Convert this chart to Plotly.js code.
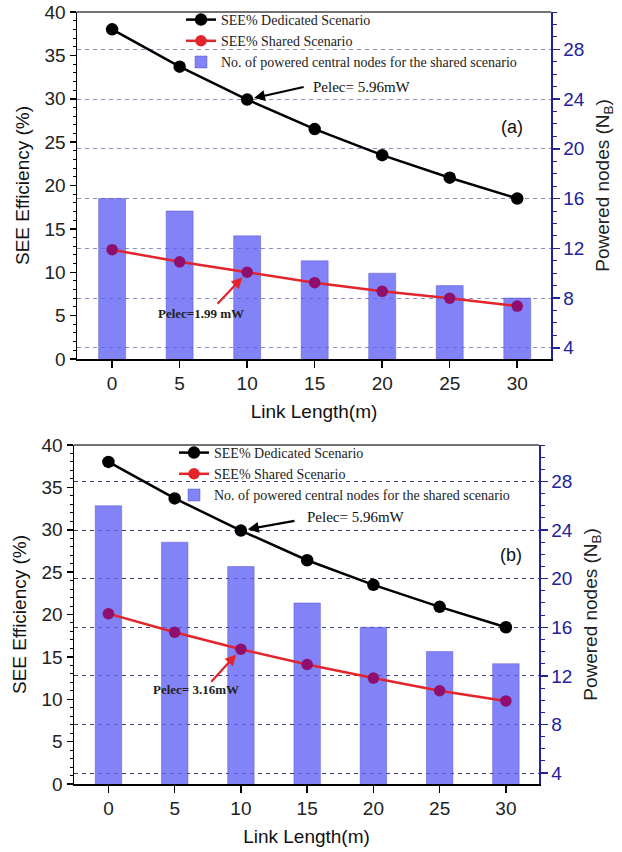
<!DOCTYPE html>
<html>
<head>
<meta charset="utf-8">
<script src="https://cdn.plot.ly/plotly-3.0.1.min.js"></script>
<style>
  html, body { margin: 0; padding: 0; background: #fff; }
  #chart { width: 622px; height: 852px; }
</style>
</head>
<body>
<div id="chart"></div>
<script>
// ---- data ----
const linkLength = [0, 5, 10, 15, 20, 25, 30];
const seeDedicatedA = [38.0, 33.7, 29.9, 26.5, 23.5, 20.9, 18.5];
const seeSharedA = [12.6, 11.2, 10.0, 8.8, 7.8, 7.0, 6.1];
const nodesA = [16, 15, 13, 11, 10, 9, 8];
const seeDedicatedB = [38.0, 33.7, 29.9, 26.4, 23.5, 20.9, 18.5];
const seeSharedB = [20.1, 17.9, 15.9, 14.1, 12.5, 11.0, 9.8];
const nodesB = [26, 23, 21, 18, 16, 14, 13];
const legendNames = ['SEE% Dedicated Scenario', 'SEE% Shared Scenario', 'No. of powered central nodes for the shared scenario'];

// ---- styles ----
const W = 622, H = 852;
const navy = '#22229a';
const sans = 'Liberation Sans, Arial, sans-serif';
const serif = 'Liberation Serif, Times New Roman, serif';
const barFill = 'rgba(96,96,246,0.78)';
const barLine = 'rgba(70,70,210,0.7)';
const purple = '#8e0f6e';
const redLine = '#e3242b';

const dom = {
  a: { x: [77 / W, 551 / W], y: [1 - 359 / H, 1 - 12 / H] },
  b: { x: [74 / W, 539 / W], y: [1 - 784 / H, 1 - 445 / H] }
};

function panelTraces(xa, yBar, yLine, leg, ded, shr, nodes) {
  return [
    { type: 'bar', x: linkLength, y: nodes, xaxis: xa, yaxis: yBar, width: 2,
      marker: { color: barFill, line: { color: barLine, width: 0.6 } },
      name: legendNames[2], legend: leg, legendrank: 3 },
    { type: 'scatter', mode: 'lines+markers', x: linkLength, y: ded, xaxis: xa, yaxis: yLine,
      line: { color: '#000', width: 2.5 }, marker: { color: '#000', size: 12.5 },
      name: legendNames[0], legend: leg, legendrank: 1 },
    { type: 'scatter', mode: 'lines+markers', x: linkLength, y: shr, xaxis: xa, yaxis: yLine,
      line: { color: redLine, width: 2.5 }, marker: { color: purple, size: 11.5 },
      name: legendNames[1], legend: leg, showlegend: false },
    // legend-only entry (red marker as in the reference legend)
    { type: 'scatter', mode: 'lines+markers', x: [null], y: [null], xaxis: xa, yaxis: yLine,
      line: { color: redLine, width: 2.5 }, marker: { color: redLine, size: 11.5 },
      name: legendNames[1], legend: leg, legendrank: 2, hoverinfo: 'skip' }
  ];
}

const traces = [].concat(
  panelTraces('x', 'y', 'y2', 'legend', seeDedicatedA, seeSharedA, nodesA),
  panelTraces('x2', 'y3', 'y4', 'legend2', seeDedicatedB, seeSharedB, nodesB)
);

function xAxis(d, anchor) {
  return {
    domain: d, anchor: anchor, range: [-2.6, 32.5], tickvals: linkLength,
    showgrid: false, zeroline: false, showline: true, linecolor: '#000', linewidth: 1.5,
    ticks: 'outside', ticklen: 7, tickwidth: 1.5, tickcolor: '#000',
    tickfont: { family: sans, size: 19, color: '#222' },
    title: { text: 'Link Length(m)', font: { family: sans, size: 19, color: '#111' }, standoff: 11 }
  };
}
function rightAxis(d, anchor, gridColor) {
  return {
    domain: d, anchor: anchor, side: 'right', range: [3.1, 31], tick0: 4, dtick: 4,
    showgrid: true, gridcolor: gridColor, griddash: '4px,4px', gridwidth: 1,
    zeroline: false, showline: true, linecolor: navy, linewidth: 1.5,
    ticks: 'outside', ticklen: 7, tickwidth: 1.5, tickcolor: navy,
    minor: { dtick: 1, ticks: 'outside', ticklen: 4, tickcolor: navy, tickwidth: 1, showgrid: false },
    tickfont: { family: sans, size: 19, color: navy },
    title: { text: 'Powered nodes (N<sub>B</sub>)', font: { family: sans, size: 19, color: '#222' }, standoff: 12 }
  };
}
function leftAxis(anchor, over) {
  return {
    anchor: anchor, overlaying: over, side: 'left', range: [0, 40], dtick: 5,
    showgrid: false, zeroline: false, showline: true, linecolor: '#000', linewidth: 1.5,
    ticks: 'outside', ticklen: 6, tickwidth: 1.5, tickcolor: '#000',
    minor: { dtick: 1, ticks: 'outside', ticklen: 3, tickcolor: '#000', tickwidth: 1, showgrid: false },
    tickfont: { family: sans, size: 19, color: '#222' },
    title: { text: 'SEE Efficiency (%)', font: { family: sans, size: 19, color: '#111' }, standoff: 10 }
  };
}

function arrow(xa, ya, x, y, ax, ay, color, standoff) {
  return { xref: xa, yref: ya, x: x, y: y, text: '', showarrow: true, ax: ax, ay: ay,
    arrowcolor: color, arrowwidth: 2.2, arrowhead: 2, arrowsize: 1, standoff: standoff };
}
function label(xa, ya, x, y, text, font, xanchor) {
  return { xref: xa, yref: ya, x: x, y: y, text: text, showarrow: false,
    xanchor: xanchor || 'center', yanchor: 'middle', font: font };
}

const annFontSerif = { family: serif, size: 15, color: '#111' };
const annFontBold = { family: serif, size: 13, color: '#222' };
const annFontSans = { family: sans, size: 18, color: '#111' };

const annotations = [
  label('x', 'y2', 14.7, 31.4, 'Pelec= 5.96mW', annFontSerif, 'left'),
  arrow('x', 'y2', 10, 29.9, 58, -13, '#000', 7),
  label('x', 'y2', 29.6, 26.8, '(a)', annFontSans),
  label('x', 'y2', 6.6, 5.3, '<b>Pelec=1.99 mW</b>', annFontBold),
  arrow('x', 'y2', 10, 10.0, -31, 33, redLine, 7),

  label('x2', 'y4', 14.8, 31.5, 'Pelec= 5.96mW', annFontSerif, 'left'),
  arrow('x2', 'y4', 10, 29.9, 55, -10, '#000', 7),
  label('x2', 'y4', 30.4, 27.0, '(b)', annFontSans),
  label('x2', 'y4', 6.6, 11.1, '<b>Pelec= 3.16mW</b>', annFontBold),
  arrow('x2', 'y4', 10, 15.9, -31, 34, redLine, 7)
];

const legendCommon = {
  bgcolor: 'rgba(0,0,0,0)', borderwidth: 0, xanchor: 'left', yanchor: 'top',
  font: { family: serif, size: 14, color: '#222' }, traceorder: 'normal', itemwidth: 30
};

const layout = {
  width: W, height: H,
  margin: { l: 0, r: 0, t: 0, b: 0 },
  paper_bgcolor: '#fff', plot_bgcolor: 'rgba(0,0,0,0)',
  showlegend: true,
  bargap: 0,
  xaxis: xAxis(dom.a.x, 'y'),
  yaxis: rightAxis(dom.a.y, 'x', '#8a8ac4'),
  yaxis2: leftAxis('x', 'y'),
  xaxis2: xAxis(dom.b.x, 'y3'),
  yaxis3: rightAxis(dom.b.y, 'x2', '#3c3c70'),
  yaxis4: leftAxis('x2', 'y3'),
  legend: Object.assign({ x: 181 / W, y: 1 - 4 / H }, legendCommon),
  legend2: Object.assign({ x: 174 / W, y: 1 - 437 / H }, legendCommon),
  annotations: annotations,
  shapes: [
    { type: 'line', xref: 'paper', yref: 'paper', x0: dom.a.x[0], x1: dom.a.x[1], y0: dom.a.y[1], y1: dom.a.y[1], line: { color: '#444', width: 1.5 } },
    { type: 'line', xref: 'paper', yref: 'paper', x0: dom.b.x[0], x1: dom.b.x[1], y0: dom.b.y[1], y1: dom.b.y[1], line: { color: '#444', width: 1.5 } }
  ]
};

Plotly.newPlot('chart', traces, layout, { displayModeBar: false, staticPlot: true });
</script>
</body>
</html>
